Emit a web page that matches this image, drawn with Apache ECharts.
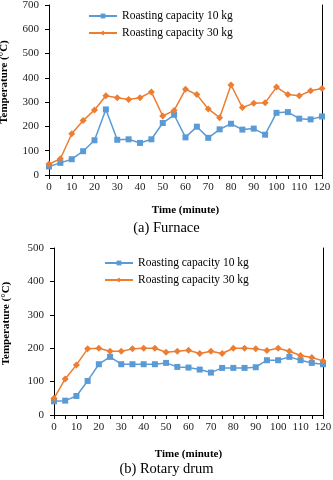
<!DOCTYPE html>
<html>
<head>
<meta charset="utf-8">
<script src="https://cdn.jsdelivr.net/npm/echarts@6/dist/echarts.min.js"></script>
<style>
  html, body { margin: 0; padding: 0; background: #fff; }
  #chart { width: 333px; height: 480px; }
</style>
</head>
<body>
<div id="chart"></div>
<script>
// time in minutes, shared by both panels
const times = [0, 5, 10, 15, 20, 25, 30, 35, 40, 45, 50, 55, 60, 65, 70, 75, 80, 85, 90, 95, 100, 105, 110, 115, 120]

// (a) Furnace
const furnace10 = [35, 50, 65, 98, 143, 270, 145, 147, 132, 147, 214, 248, 155, 199, 153, 188, 211, 187, 191, 166, 256, 259, 232, 229, 241]
const furnace30 = [45, 67, 170, 224, 268, 326, 318, 311, 318, 342, 243, 266, 353, 331, 272, 236, 371, 278, 295, 297, 362, 331, 326, 347, 356]

// (b) Rotary drum
const drum10 = [41, 43, 57, 102, 152, 174, 152, 152, 152, 152, 156, 144, 142, 136, 127, 141, 141, 141, 143, 164, 164, 174, 164, 156, 152]
const drum30 = [50, 108, 150, 198, 200, 191, 191, 198, 200, 200, 188, 191, 194, 184, 191, 184, 200, 200, 198, 193, 200, 191, 178, 172, 162]

const seriesNames = ['Roasting capacity 10 kg', 'Roasting capacity 30 kg']
const captions = ['(a) Furnace', '(b) Rotary drum']

const BLUE = '#5B9BD5'
const ORANGE = '#ED7D31'
const FONT = '"Liberation Serif", "Times New Roman", serif'

const pairs = (vals) => times.map((t, i) => [t, vals[i]])

const chart = echarts.init(document.getElementById('chart'))

const xAxisBase = (gridIndex) => ({
  type: 'value',
  gridIndex,
  min: 0,
  max: 120,
  interval: 5,
  name: 'Time (minute)',
  nameLocation: 'middle',
  nameGap: gridIndex === 0 ? 30 : 34,
  nameTextStyle: { fontFamily: FONT, fontSize: 11, fontWeight: 'bold', color: '#000' },
  axisLine: { show: true, lineStyle: { color: '#000', width: 1 } },
  axisTick: { show: true, inside: false, length: 4, lineStyle: { color: '#000' } },
  axisLabel: {
    fontFamily: FONT, fontSize: 11, color: '#222', margin: 7,
    formatter: (v) => (v % 10 === 0 ? String(v) : '')
  },
  splitLine: { show: false }
})

const yAxisBase = (gridIndex, max) => ({
  type: 'value',
  gridIndex,
  min: 0,
  max,
  interval: 100,
  name: 'Temperature (°C)',
  nameLocation: 'middle',
  nameRotate: 90,
  nameGap: gridIndex === 0 ? 39 : 42,
  // extra left padding lifts the rotated title a little
  nameTextStyle: { fontFamily: FONT, fontSize: 11, fontWeight: 'bold', color: '#000', padding: [0, 0, 0, 16] },
  axisLine: { show: true, lineStyle: { color: '#000', width: 1 } },
  axisTick: { show: true, inside: false, length: 4, lineStyle: { color: '#000' } },
  axisLabel: { fontFamily: FONT, fontSize: 11, color: '#222', margin: 10 },
  splitLine: { show: false }
})

// right-hand frame line
const rightAxis = (gridIndex, max) => ({
  type: 'value',
  gridIndex,
  position: 'right',
  min: 0,
  max,
  axisLine: { show: true, onZero: false, lineStyle: { color: '#000', width: 1 } },
  axisTick: { show: false },
  axisLabel: { show: false },
  splitLine: { show: false }
})

const lineSeries = (name, data, color, symbol, xi, yi) => ({
  name,
  type: 'line',
  xAxisIndex: xi,
  yAxisIndex: yi,
  data: pairs(data),
  symbol,
  symbolSize: symbol === 'rect' ? 6 : 7,
  lineStyle: { color, width: 1.5 },
  itemStyle: { color },
  animation: false
})

const legendBase = (left, top) => ({
  data: seriesNames,
  orient: 'vertical',
  left,
  top,
  padding: 0,
  itemGap: 3,
  itemWidth: 28,
  itemHeight: 6,
  textStyle: { fontFamily: FONT, fontSize: 11.5, color: '#000', lineHeight: 14 }
})

const option = {
  backgroundColor: '#fff',
  title: [
    { text: captions[0], left: 'center', top: 216, textStyle: { fontFamily: FONT, fontSize: 14.5, fontWeight: 'normal', color: '#000' } },
    { text: captions[1], left: 'center', top: 457, textStyle: { fontFamily: FONT, fontSize: 14.5, fontWeight: 'normal', color: '#000' } }
  ],
  legend: [legendBase(88, 9), legendBase(104, 256)],
  grid: [
    { left: 49, right: 11, top: 5, height: 170, outerBoundsMode: 'none' },
    { left: 54, right: 10, top: 248, height: 167, outerBoundsMode: 'none' }
  ],
  xAxis: [xAxisBase(0), xAxisBase(1)],
  yAxis: [yAxisBase(0, 700), yAxisBase(1, 500), rightAxis(0, 700), rightAxis(1, 500)],
  series: [
    lineSeries(seriesNames[0], furnace10, BLUE, 'rect', 0, 0),
    lineSeries(seriesNames[1], furnace30, ORANGE, 'diamond', 0, 0),
    lineSeries(seriesNames[0], drum10, BLUE, 'rect', 1, 1),
    lineSeries(seriesNames[1], drum30, ORANGE, 'diamond', 1, 1)
  ]
}

chart.setOption(option)
</script>
</body>
</html>
